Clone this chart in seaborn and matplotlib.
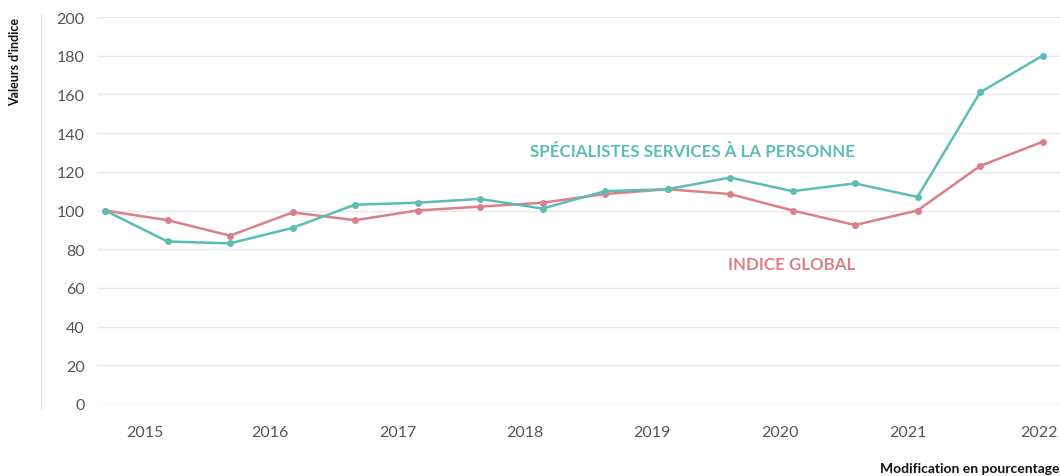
import numpy as np
import pandas as pd
import seaborn as sns
import matplotlib.pyplot as plt
from matplotlib.lines import Line2D

# ------------------------------------------------------------
# Index values, semi-annual points 2015-2022
# ------------------------------------------------------------
periods = list(range(16))
specialistes = [100, 84, 83, 91, 103, 104, 106, 101, 110, 111, 117, 110, 114, 107, 161, 180]
indice_global = [100, 95, 87, 99, 95, 100, 102, 104, 108.5, 111, 108.5, 100, 92.5, 100, 123, 135.5]

year_labels = ['2015', '2016', '2017', '2018', '2019', '2020', '2021', '2022']
year_ticks = [0.64, 2.64, 4.69, 6.72, 8.75, 10.8, 12.85, 14.95]
y_ticks = [0, 20, 40, 60, 80, 100, 120, 140, 160, 180, 200]

name_spec = 'SPÉCIALISTES SERVICES À LA PERSONNE'
name_glob = 'INDICE GLOBAL'

df = pd.DataFrame({
    'periode': periods * 2,
    'valeur': specialistes + indice_global,
    'serie': [name_spec] * 16 + [name_glob] * 16,
})

teal = '#5bbdb4'
pink = '#db7f88'

sns.set_style('white')
plt.rcParams['font.family'] = ['Lato', 'DejaVu Sans']

fig = plt.figure(figsize=(10.6, 4.77), dpi=100)
ax = fig.add_axes([97 / 1060, 72 / 477, 963 / 1060, 387 / 477])

sns.lineplot(data=df, x='periode', y='valeur', hue='serie',
             palette={name_spec: teal, name_glob: pink},
             hue_order=[name_glob, name_spec],
             marker='o', markersize=5, markeredgewidth=0,
             linewidth=1.8, legend=False, ax=ax)

ax.set_xlim(-0.128, 15.28)
ax.set_ylim(0, 200)
ax.set_yticks(y_ticks)
ax.set_xticks(year_ticks)
ax.set_xticklabels(year_labels)
ax.yaxis.grid(True, color='#e8e8e8', linewidth=1)
ax.xaxis.grid(False)
ax.set_axisbelow(True)
for s in ax.spines.values():
    s.set_visible(False)
ax.tick_params(axis='both', length=0, labelsize=11.5, colors='#555555')
ax.tick_params(axis='x', pad=15)
ax.tick_params(axis='y', pad=9)
ax.set_xlabel('')
ax.set_ylabel('')

# Series labels
ax.text(12, 130.5, name_spec, color=teal, fontsize=12.2, fontweight='bold',
        ha='right', va='center')
ax.text(12, 72.3, name_glob, color=pink, fontsize=12.2, fontweight='bold',
        ha='right', va='center')

# Axis titles
fig.text(15 / 1060, 1 - 18 / 477, "Valeurs d'indice", rotation=90,
         ha='center', va='top', fontsize=9, fontweight='bold', color='#111111')
fig.text(1.0, 2 / 477, 'Modification en pourcentage', ha='right', va='bottom',
         fontsize=10, fontweight='bold', color='#111111')

# Thin vertical rule on the left
fig.add_artist(Line2D([41 / 1060, 41 / 1060], [1 - 15 / 477, 1 - 410 / 477],
                      color='#e6e6e6', linewidth=1))

fig.savefig('out.png', dpi=100)
